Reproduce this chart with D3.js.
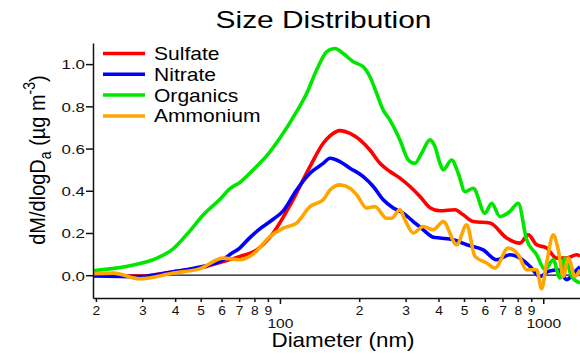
<!DOCTYPE html>
<html>
<head>
<meta charset="utf-8">
<script src="https://cdn.jsdelivr.net/npm/d3@7"></script>
<style>
  body { margin: 0; background: #fff; }
  svg { display: block; font-family: "Liberation Sans", Arial, sans-serif; }
  .axis path, .axis line { stroke: #111; stroke-width: 1.5px; }
  .axis text { fill: #111; }
</style>
</head>
<body>
<script>
// Size distribution, values
var seriesNames = ["Sulfate", "Nitrate", "Organics", "Ammonium"];

var sulfateD = [19.0, 29.4, 39.3, 49.7, 60.9, 70.5, 81.6, 94.3, 109.1, 130.0, 146.0, 154.9, 169.0, 184.5, 201.3, 219.7, 239.8, 261.7, 285.6, 311.8, 340.2, 371.3, 405.3, 462.0, 496.8, 542.2, 627.4, 726.1, 815.6, 877.0, 943.9, 1030, 1124, 1227, 1340, 1379];
var sulfateM = [0.0, -0.004, 0.016, 0.034, 0.065, 0.089, 0.12, 0.2, 0.33, 0.514, 0.625, 0.66, 0.685, 0.672, 0.641, 0.593, 0.53, 0.491, 0.46, 0.42, 0.373, 0.32, 0.305, 0.31, 0.286, 0.254, 0.247, 0.176, 0.152, 0.191, 0.144, 0.129, 0.081, 0.081, 0.097, 0.089];

var nitrateD = [19.0, 29.4, 39.3, 49.7, 60.9, 64.6, 70.5, 76.9, 85.0, 94.3, 102.9, 115.7, 130.0, 146.0, 154.9, 169.0, 184.5, 207.3, 226.2, 246.8, 269.4, 294.0, 320.9, 350.1, 382.2, 405.3, 455.2, 511.8, 591.6, 665.3, 747.3, 815.6, 890.2, 971.6, 1045, 1140, 1227, 1340, 1379];
var nitrateM = [-0.003, -0.007, 0.016, 0.039, 0.073, 0.098, 0.13, 0.178, 0.225, 0.265, 0.305, 0.404, 0.483, 0.53, 0.554, 0.538, 0.507, 0.467, 0.42, 0.357, 0.318, 0.294, 0.254, 0.215, 0.18, 0.176, 0.168, 0.144, 0.12, 0.073, 0.097, 0.081, 0.042, -0.006, 0.018, 0.026, -0.021, 0.026, 0.04];

var organicsD = [19.0, 29.4, 34.0, 39.3, 45.5, 51.1, 59.2, 64.6, 70.5, 79.2, 89.0, 100, 115.7, 126.3, 137.8, 150.4, 161.8, 174.0, 189.9, 207.3, 219.7, 233.0, 246.8, 261.7, 285.6, 307.2, 325.7, 345.3, 371.3, 388.0, 405.3, 417.1, 448.8, 475.6, 504.2, 542.2, 600.5, 636.8, 684.7, 747.3, 803.5, 864.8, 943.9, 1015, 1091, 1157, 1209, 1282, 1379];
var organicsM = [0.02, 0.055, 0.08, 0.125, 0.21, 0.285, 0.36, 0.41, 0.44, 0.5, 0.565, 0.65, 0.775, 0.861, 0.972, 1.058, 1.074, 1.05, 1.011, 0.987, 0.94, 0.861, 0.782, 0.735, 0.641, 0.546, 0.53, 0.578, 0.641, 0.609, 0.53, 0.499, 0.546, 0.483, 0.396, 0.412, 0.294, 0.341, 0.278, 0.302, 0.341, 0.168, 0.097, 0.026, 0.073, -0.013, 0.081, -0.006, -0.037];

var ammoniumD = [19.0, 23.3, 29.4, 39.3, 49.7, 60.9, 70.5, 79.2, 91.6, 102.9, 115.7, 130.0, 146.0, 154.9, 169.0, 184.5, 195.6, 213.5, 229.6, 254.3, 265.6, 285.6, 298.4, 320.9, 350.1, 382.2, 417.1, 468.9, 511.8, 550.4, 609.5, 655.5, 736.4, 803.5, 864.8, 943.9, 986.1, 1030, 1091, 1140, 1191, 1245, 1319, 1379];
var ammoniumM = [0.007, 0.01, -0.017, 0.01, 0.031, 0.081, 0.073, 0.1, 0.183, 0.223, 0.247, 0.325, 0.357, 0.404, 0.428, 0.412, 0.381, 0.318, 0.325, 0.27, 0.27, 0.31, 0.262, 0.2, 0.231, 0.215, 0.254, 0.144, 0.239, 0.089, 0.058, 0.034, 0.129, 0.097, 0.026, 0.026, -0.065, 0.058, 0.191, 0.12, -0.006, 0.081, -0.006, 0.026];

var yTicks = [0, 0.2, 0.4, 0.6, 0.8, 1.0];
var xMinorTicks = [20, 30, 40, 50, 60, 70, 80, 90, 200, 300, 400, 500, 600, 700, 800, 900];
var xMajorTicks = [100, 1000];

var colors = ["#ff0000", "#0000ff", "#00e600", "#ffa500"];

var series = [
    { name: seriesNames[0], d: sulfateD, m: sulfateM },
    { name: seriesNames[1], d: nitrateD, m: nitrateM },
    { name: seriesNames[2], d: organicsD, m: organicsM },
    { name: seriesNames[3], d: ammoniumD, m: ammoniumM }
].map(function(s, i) {
    return { name: s.name, color: colors[i], points: s.d.map(function(v, j) { return { D: v, M: s.m[j] }; }) };
});

var width = 580, height = 354;
var plotLeft = 93, plotRight = 580, plotTop = 43, plotBottom = 298;

var svg = d3.select("body").append("svg")
    .attr("width", width)
    .attr("height", height);

var x = d3.scaleLog().domain([19.5, 1379]).range([plotLeft, plotRight]);
var y = d3.scaleLinear().domain([-0.108, 1.1]).range([plotBottom, plotTop]);

svg.append("clipPath").attr("id", "plot")
    .append("rect").attr("x", plotLeft).attr("y", plotTop)
    .attr("width", plotRight - plotLeft).attr("height", plotBottom - plotTop);

// zero line
svg.append("line")
    .attr("x1", plotLeft).attr("x2", plotRight)
    .attr("y1", y(0)).attr("y2", y(0))
    .attr("stroke", "#111").attr("stroke-width", 1.2);

var line = d3.line()
    .x(function(d) { return x(d.D); })
    .y(function(d) { return y(d.M); })
    .curve(d3.curveMonotoneX);

svg.append("g").attr("clip-path", "url(#plot)")
    .selectAll("path")
    .data(series)
    .enter().append("path")
    .attr("d", function(s) { return line(s.points); })
    .attr("fill", "none")
    .attr("stroke", function(s) { return s.color; })
    .attr("stroke-width", 3.6)
    .attr("stroke-linejoin", "round");

// y axis
var yAxis = svg.append("g")
    .attr("class", "axis")
    .attr("transform", "translate(" + plotLeft + ",0)")
    .call(d3.axisLeft(y).tickValues(yTicks).tickFormat(d3.format(".1f")).tickSize(7).tickSizeOuter(0));
yAxis.selectAll("text")
    .attr("x", 0).attr("dy", null)
    .attr("transform", "translate(-8,4.8) scale(1.25,1)")
    .style("font-size", "13.5px");

// x axis: minor labelled ticks and decades
var xAxis = svg.append("g")
    .attr("class", "axis")
    .attr("transform", "translate(0," + plotBottom + ")")
    .call(d3.axisBottom(x).tickValues(xMinorTicks).tickFormat(function(d) { return String(d).charAt(0); }).tickSize(4).tickSizeOuter(0));
xAxis.selectAll("text")
    .attr("y", 0).attr("dy", null)
    .attr("transform", "translate(0,16.5) scale(1.15,1)")
    .style("font-size", "12px");

var xMajor = svg.append("g")
    .attr("class", "axis")
    .attr("transform", "translate(0," + plotBottom + ")")
    .call(d3.axisBottom(x).tickValues(xMajorTicks).tickFormat(d3.format("d")).tickSize(6).tickSizeOuter(0));
xMajor.select(".domain").remove();
xMajor.selectAll("text")
    .attr("y", 0).attr("dy", null)
    .attr("transform", "translate(0,30) scale(1.2,1)")
    .style("font-size", "13px");

// titles
svg.append("text")
    .attr("transform", "translate(323.5,28) scale(1.3,1)")
    .attr("text-anchor", "middle")
    .style("font-size", "23px")
    .text("Size Distribution");

svg.append("text")
    .attr("transform", "translate(343,347) scale(1.12,1)")
    .attr("text-anchor", "middle")
    .style("font-size", "20px")
    .text("Diameter (nm)");

var ylab = svg.append("text")
    .attr("transform", "translate(45,160) rotate(-90) scale(1,1.12)")
    .attr("text-anchor", "middle")
    .style("font-size", "20px");
ylab.append("tspan").text("dM/dlogD");
ylab.append("tspan").attr("dy", 5).style("font-size", "14px").text("a");
ylab.append("tspan").attr("dy", -5).text(" (µg m");
ylab.append("tspan").attr("dy", -9).style("font-size", "14px").text("-3");
ylab.append("tspan").attr("dy", 9).text(")");

// legend
var legend = svg.append("g").selectAll("g")
    .data(series)
    .enter().append("g")
    .attr("transform", function(d, i) { return "translate(103," + (53.5 + i * 20.8) + ")"; });
legend.append("line")
    .attr("x1", 0).attr("x2", 42)
    .attr("stroke", function(d) { return d.color; })
    .attr("stroke-width", 3.5);
legend.append("text")
    .attr("transform", "translate(51,6.5) scale(1.17,1)")
    .style("font-size", "18px")
    .text(function(d) { return d.name; });
</script>
</body>
</html>
